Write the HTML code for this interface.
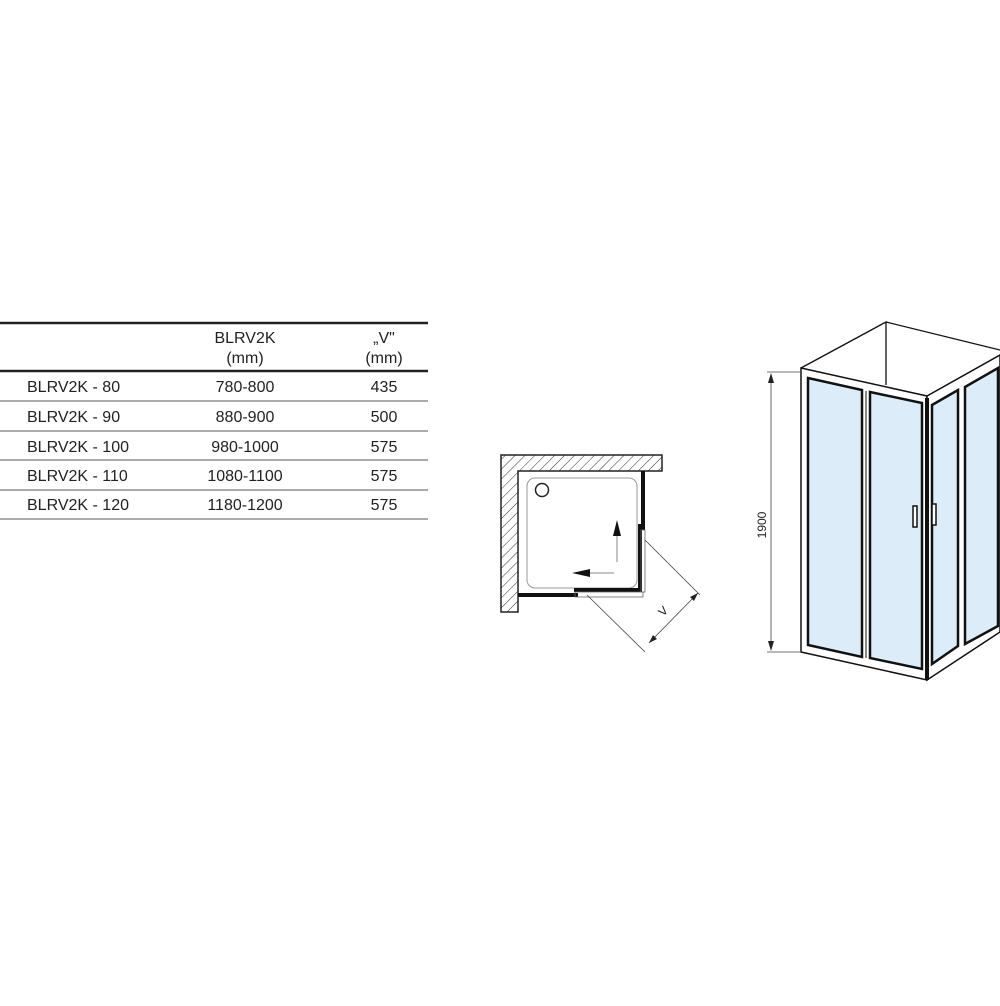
<!DOCTYPE html>
<html><head><meta charset="utf-8"><style>
body{margin:0;background:#fff;width:1000px;height:1001px;overflow:hidden;font-family:"Liberation Sans",sans-serif;}
</style></head><body>
<svg width="1000" height="1001" viewBox="0 0 1000 1001" xmlns="http://www.w3.org/2000/svg">
<defs>
<pattern id="h" width="7" height="7" patternUnits="userSpaceOnUse" patternTransform="rotate(45)">
<line x1="0" y1="0" x2="0" y2="7" stroke="#333" stroke-width="1"/>
</pattern>
</defs>
<!-- table -->
<g stroke="#222">
<line x1="0" y1="323" x2="428" y2="323" stroke-width="2.5"/>
<line x1="0" y1="371" x2="428" y2="371" stroke-width="2.5"/>
<line x1="0" y1="401" x2="428" y2="401" stroke-width="1" stroke="#555"/>
<line x1="0" y1="431" x2="428" y2="431" stroke-width="1" stroke="#555"/>
<line x1="0" y1="460" x2="428" y2="460" stroke-width="1" stroke="#555"/>
<line x1="0" y1="490" x2="428" y2="490" stroke-width="1" stroke="#555"/>
<line x1="0" y1="519" x2="428" y2="519" stroke-width="1" stroke="#555"/>
</g>
<g font-size="16" fill="#222">
<text x="245" y="343" text-anchor="middle">BLRV2K</text>
<text x="245" y="363" text-anchor="middle">(mm)</text>
<text x="384" y="343" text-anchor="middle">„V"</text>
<text x="384" y="363" text-anchor="middle">(mm)</text>
<text x="27" y="392">BLRV2K - 80</text><text x="245" y="392" text-anchor="middle">780-800</text><text x="384" y="392" text-anchor="middle">435</text>
<text x="27" y="422">BLRV2K - 90</text><text x="245" y="422" text-anchor="middle">880-900</text><text x="384" y="422" text-anchor="middle">500</text>
<text x="27" y="452">BLRV2K - 100</text><text x="245" y="452" text-anchor="middle">980-1000</text><text x="384" y="452" text-anchor="middle">575</text>
<text x="27" y="481">BLRV2K - 110</text><text x="245" y="481" text-anchor="middle">1080-1100</text><text x="384" y="481" text-anchor="middle">575</text>
<text x="27" y="510">BLRV2K - 120</text><text x="245" y="510" text-anchor="middle">1180-1200</text><text x="384" y="510" text-anchor="middle">575</text>
</g>
<!-- plan -->
<path d="M501 455 H662 V471 H518 V612 H501 Z" fill="url(#h)" stroke="#222" stroke-width="1.5"/>
<rect x="527" y="478" width="110" height="110" rx="8" fill="none" stroke="#999" stroke-width="1"/>
<circle cx="542" cy="490" r="6.5" fill="none" stroke="#222" stroke-width="1.5"/>
<g stroke="#111" stroke-width="4" fill="none">
<line x1="643" y1="471" x2="643" y2="530"/>
<path d="M640 524 V590 H574"/>
<line x1="518" y1="595" x2="578" y2="595"/>
</g>
<rect x="575" y="592" width="68" height="5" fill="none" stroke="#666" stroke-width="0.8"/>
<rect x="641" y="530" width="4" height="62" fill="none" stroke="#666" stroke-width="0.8"/>
<line x1="617" y1="562" x2="617" y2="532" stroke="#888" stroke-width="1"/>
<path d="M617 520 L613 536 L621 536 Z" fill="#111"/>
<line x1="614" y1="573" x2="586" y2="573" stroke="#888" stroke-width="1"/>
<path d="M572 573 L590 569 L590 577 Z" fill="#111"/>
<g stroke="#444" stroke-width="0.8">
<line x1="645" y1="540" x2="700" y2="595"/>
<line x1="587" y1="595" x2="645" y2="652"/>
<line x1="649" y1="643" x2="698" y2="593"/>
</g>
<path d="M698 593 L690 597 L694 601 Z M649 643 L653 635 L657 639 Z" fill="#222"/>
<text x="0" y="0" font-size="12" fill="#222" transform="translate(666,614) rotate(-45)" text-anchor="middle">V</text>
<!-- cabin -->
<g stroke="#111" stroke-width="1.3" fill="none">
<path d="M801 368 L886 322 L1000 350"/>
<line x1="886" y1="322" x2="886" y2="385"/>
</g>
<!-- front panel -->
<path d="M801 368 L927 396 L927 680 L801 652 Z" fill="#fff" stroke="#111" stroke-width="1.5"/>
<path d="M808 378 L862 390 L862 657 L808 645 Z" fill="#dcecf9" stroke="#111" stroke-width="2.5"/>
<path d="M870 392 L922 403 L922 669 L870 658 Z" fill="#dcecf9" stroke="#111" stroke-width="2.5"/>
<line x1="866" y1="391" x2="866" y2="658" stroke="#111" stroke-width="1"/>
<!-- right panel -->
<path d="M927 396 L1000 355 L1000 632 L927 680 Z" fill="#fff" stroke="#111" stroke-width="1.5"/>
<path d="M932 405 L958 390 L958 646 L932 664 Z" fill="#dcecf9" stroke="#111" stroke-width="2.5"/>
<path d="M965 387 L998 368 L998 626 L965 644 Z" fill="#dcecf9" stroke="#111" stroke-width="2.5"/>
<line x1="927" y1="398" x2="927" y2="680" stroke="#111" stroke-width="4"/>
<rect x="913" y="506" width="4" height="21" fill="#fff" stroke="#111" stroke-width="1.5"/>
<rect x="932" y="504" width="4" height="21" fill="#fff" stroke="#111" stroke-width="1.5"/>
<!-- dimension -->
<g stroke="#444" stroke-width="0.8">
<line x1="767" y1="372" x2="800" y2="372"/>
<line x1="767" y1="652" x2="800" y2="652"/>
<line x1="771" y1="374" x2="771" y2="650"/>
</g>
<path d="M771 373 L768 383 L774 383 Z M771 651 L768 641 L774 641 Z" fill="#222"/>
<text x="0" y="0" font-size="12" fill="#222" transform="translate(766,525) rotate(-90)" text-anchor="middle">1900</text>
</svg>
</body></html>
